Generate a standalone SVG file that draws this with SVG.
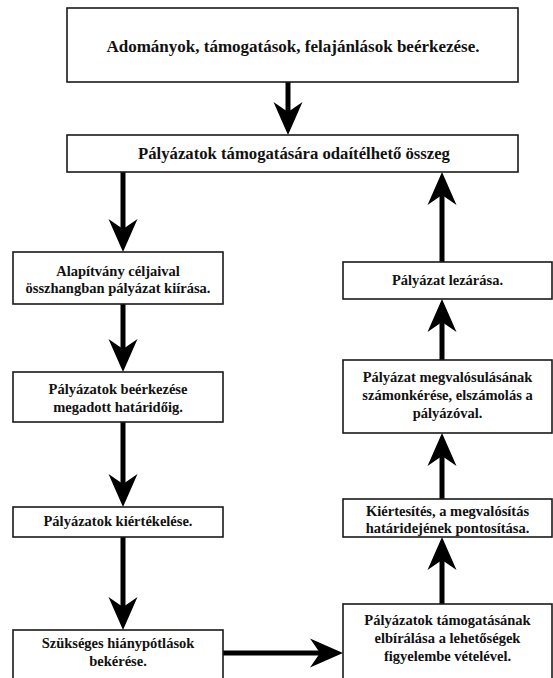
<svg xmlns="http://www.w3.org/2000/svg" width="553" height="678" viewBox="0 0 553 678">
<style>
.box{fill:#fff;stroke:#1a1a1a;stroke-width:1.6}
.t{font-family:"Liberation Serif","Times New Roman",serif;font-weight:bold;fill:#111;text-anchor:middle}
.big{font-size:17px}
.sm{font-size:14.5px}
.c{stroke:#000;stroke-width:5;fill:none}
</style>
<defs>
<marker id="ah" markerUnits="userSpaceOnUse" viewBox="-10 -15 33 30" markerWidth="33" markerHeight="30" refX="0" refY="0" orient="auto" overflow="visible">
<path d="M-10,-14.5 L23,0 L-10,14.5 L0,0 Z" fill="#000"/>
</marker>
</defs>
<rect width="553" height="678" fill="#fff"/>
<g id="connectors">
<line class="c" x1="288" y1="82" x2="288" y2="112" marker-end="url(#ah)"/>
<line class="c" x1="123" y1="172" x2="123" y2="229" marker-end="url(#ah)"/>
<line class="c" x1="123" y1="304" x2="123" y2="349" marker-end="url(#ah)"/>
<line class="c" x1="123" y1="422" x2="123" y2="484" marker-end="url(#ah)"/>
<line class="c" x1="123" y1="537" x2="123" y2="607" marker-end="url(#ah)"/>
<line class="c" x1="223" y1="653" x2="320" y2="653" stroke-width="6" marker-end="url(#ah)"/>
<line class="c" x1="442" y1="604" x2="442" y2="560" marker-end="url(#ah)"/>
<line class="c" x1="442" y1="499" x2="442" y2="456" marker-end="url(#ah)"/>
<line class="c" x1="442" y1="360" x2="442" y2="322" marker-end="url(#ah)"/>
<line class="c" x1="442" y1="262" x2="442" y2="195" marker-end="url(#ah)"/>
</g>
<g id="n1"><rect class="box" x="67" y="8" width="451" height="74"/><text class="t big" x="293" y="52">Adományok, támogatások, felajánlások beérkezése.</text></g>
<g id="n2"><rect class="box" x="67" y="135" width="451" height="37"/><text class="t" font-size="16.7" x="294" y="159">Pályázatok támogatására odaítélhető összeg</text></g>
<g id="n3"><rect class="box" x="13" y="252" width="210" height="52"/><text class="t sm" x="118" y="276">Alapítvány céljaival</text><text class="t sm" x="118" y="293">összhangban pályázat kiírása.</text></g>
<g id="n4"><rect class="box" x="13" y="372" width="210" height="50"/><text class="t sm" x="118" y="394">Pályázatok beérkezése</text><text class="t sm" x="118" y="412">megadott határidőig.</text></g>
<g id="n5"><rect class="box" x="13" y="507" width="210" height="30"/><text class="t sm" x="118" y="526">Pályázatok kiértékelése.</text></g>
<g id="n6"><rect class="box" x="13" y="630" width="210" height="60"/><text class="t sm" x="118" y="648">Szükséges hiánypótlások</text><text class="t sm" x="118" y="666">bekérése.</text></g>
<g id="n7"><rect class="box" x="343" y="604" width="209" height="86"/><text class="t sm" x="447.5" y="625">Pályázatok támogatásának</text><text class="t sm" x="447.5" y="643">elbírálása a lehetőségek</text><text class="t sm" x="447.5" y="661">figyelembe vételével.</text></g>
<g id="n8"><rect class="box" x="343" y="499" width="209" height="38"/><text class="t sm" x="447.5" y="516">Kiértesítés, a megvalósítás</text><text class="t sm" x="447.5" y="533">határidejének pontosítása.</text></g>
<g id="n9"><rect class="box" x="343" y="360" width="209" height="73"/><text class="t sm" x="447.5" y="382">Pályázat megvalósulásának</text><text class="t sm" x="447.5" y="400">számonkérése, elszámolás a</text><text class="t sm" x="447.5" y="418">pályázóval.</text></g>
<g id="n10"><rect class="box" x="343" y="262" width="209" height="37"/><text class="t sm" x="447.5" y="285">Pályázat lezárása.</text></g>
</svg>
